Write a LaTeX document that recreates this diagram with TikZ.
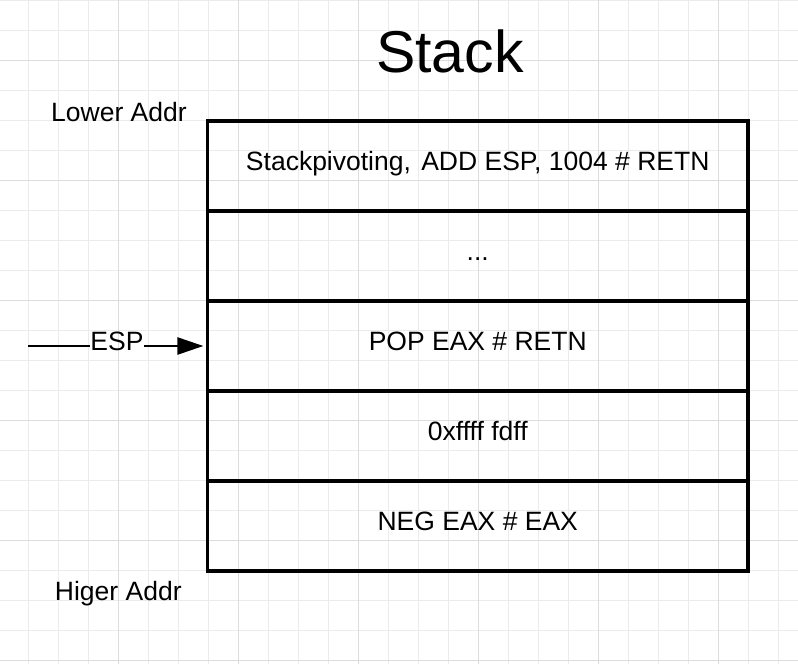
\documentclass[tikz,border=0pt]{standalone}
\usepackage{fontspec}
\setmainfont{Liberation Sans}
\usetikzlibrary{arrows.meta}
\definecolor{gridminor}{HTML}{EBEBEB}
\definecolor{gridmajor}{HTML}{DCDCDC}
\tikzset{
  minorline/.style={draw=gridminor, line width=1pt},
  majorline/.style={draw=gridmajor, line width=1pt},
  stackrow/.style={draw=black, line width=3.2pt, minimum width=540.5pt, minimum height=90pt,
    inner sep=0pt, font=\fontsize{26.5}{30}\selectfont, text height=18pt, text depth=9pt},
  plainlabel/.style={font=\fontsize{26.5}{30}\selectfont, inner sep=0pt, text height=18pt, text depth=9pt},
}
\begin{document}
\begin{tikzpicture}[x=1pt, y=-1pt]
\useasboundingbox (0,0) rectangle (798,664);
\fill[white] (0,0) rectangle (798,664);
% grid
\foreach \x in {28,58,...,778} \draw[minorline] (\x,0) -- (\x,664);
\foreach \y in {0,30,...,660} \draw[minorline] (0,\y) -- (798,\y);
\foreach \x in {118,238,...,718} \draw[majorline] (\x,0) -- (\x,664);
\foreach \y in {60,180,...,660} \draw[majorline] (0,\y) -- (798,\y);
% title
\node[anchor=base, inner sep=0pt, font=\fontsize{59}{66}\selectfont] (title) at (450,72) {Stack};
% stack rows
\node[stackrow] (r1) at (477.75,166) {Stackpivoting,\hspace{3pt} ADD ESP, 1004 \# RETN};
\node[stackrow] (r2) at (477.75,256) {...};
\node[stackrow] (r3) at (477.75,346) {POP EAX \# RETN};
\node[stackrow] (r4) at (477.75,436) {0xffff fdff};
\node[stackrow] (r5) at (477.75,526) {NEG EAX \# EAX};
% side labels
\node[plainlabel] (lower) at (119,116.5) {Lower Addr};
\node[plainlabel] (higher) at (118.3,595.5) {Higer Addr};
% ESP pointer
\coordinate (espstart) at (28,346);
\node[plainlabel, inner xsep=0.6pt] (esp) at (117,346) {ESP};
\draw[line width=2.4pt] (espstart) -- (esp.west);
\draw[line width=2.4pt, -{Triangle[length=26pt,width=17pt]}, shorten >=2.5pt] (esp.east) -- (r3.west);
\end{tikzpicture}
\end{document}
